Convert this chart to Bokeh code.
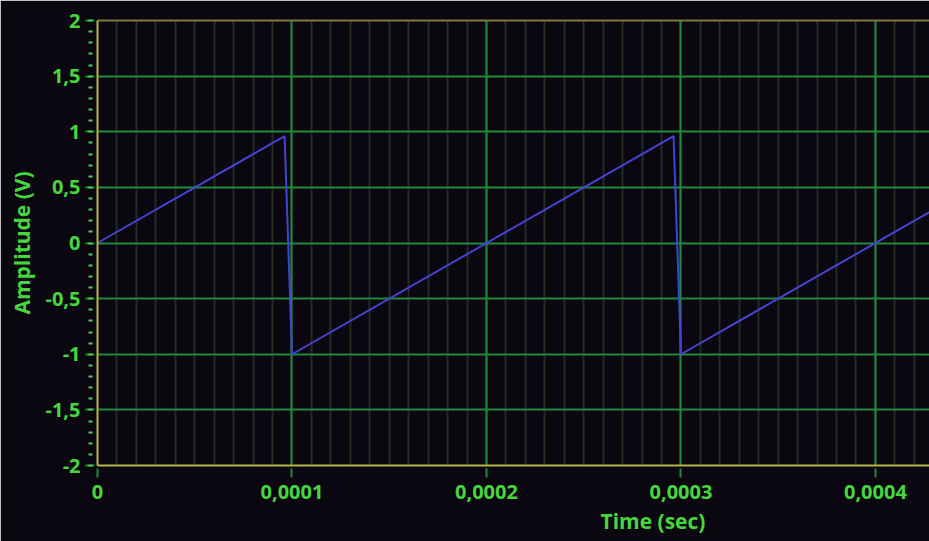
from bokeh.plotting import figure
from bokeh.models import Range1d, FixedTicker, LinearAxis, Title
from bokeh.embed import file_html
from bokeh.resources import INLINE

# --- data ---
time_s = [0.0, 0.0000962, 0.0001, 0.0002962, 0.0003, 0.000428]
amplitude_v = [0.0, 0.96, -1.0, 0.96, -1.0, 0.28]

x_ticks = [0.0, 0.0001, 0.0002, 0.0003, 0.0004]
x_tick_labels = ["0", "0,0001", "0,0002", "0,0003", "0,0004"]
y_ticks = [-2.0, -1.5, -1.0, -0.5, 0.0, 0.5, 1.0, 1.5, 2.0]
y_tick_labels = ["-2", "-1,5", "-1", "-0,5", "0", "0,5", "1", "1,5", "2"]
x_minor = [round(i * 0.00001, 6) for i in range(0, 43)]
y_minor = [round(-2 + i * 0.1, 2) for i in range(0, 41)]

BG = "#0b0710"
GREEN_TXT = "#45d83c"
GRID = "#1e8a3c"
MINOR_GRID = "#242b1f"
YELLOW = "#b8b448"
FONT = "Open Sans"

p = figure(width=929, height=541, output_backend="svg", toolbar_location=None,
           x_range=Range1d(0, 0.0004278), y_range=Range1d(-2, 2),
           min_border_left=97, min_border_right=0, min_border_top=20, min_border_bottom=76)
p.background_fill_color = BG
p.border_fill_color = BG
p.outline_line_color = None

p.line(time_s, amplitude_v, line_color="#4444d2", line_width=2)

xt = FixedTicker(ticks=x_ticks, minor_ticks=x_minor)
yt = FixedTicker(ticks=y_ticks, minor_ticks=y_minor)
p.xaxis.ticker = xt
p.yaxis.ticker = yt
p.xgrid.ticker = xt
p.ygrid.ticker = yt

p.xaxis.major_label_overrides = dict(zip(x_ticks, x_tick_labels))
p.yaxis.major_label_overrides = dict(zip(y_ticks, y_tick_labels))

for ax in (p.xaxis, p.yaxis):
    ax.axis_line_color = YELLOW
    ax.axis_line_width = 2
    ax.major_tick_line_color = GRID
    ax.major_tick_line_width = 2
    ax.major_tick_in = -3
    ax.major_tick_out = 12
    ax.major_label_text_color = GREEN_TXT
    ax.major_label_text_font = FONT
    ax.major_label_text_font_style = "bold"
    ax.major_label_text_font_size = "20px"
    ax.axis_label_text_color = GREEN_TXT
    ax.axis_label_text_font = FONT
    ax.axis_label_text_font_style = "bold"
    ax.axis_label_text_font_size = "21px"

p.xaxis.minor_tick_line_color = None
p.xaxis.major_label_standoff = 7
p.yaxis.minor_tick_line_color = GREEN_TXT
p.yaxis.minor_tick_line_width = 2
p.yaxis.minor_tick_in = -5
p.yaxis.minor_tick_out = 9
p.yaxis.axis_label = "Amplitude (V)"
p.yaxis.axis_label_standoff = 6

p.xgrid.grid_line_color = GRID
p.xgrid.grid_line_width = 2
p.xgrid.minor_grid_line_color = MINOR_GRID
p.xgrid.minor_grid_line_width = 2
p.ygrid.grid_line_color = GRID
p.ygrid.grid_line_width = 2

top = LinearAxis(ticker=FixedTicker(ticks=[]), axis_line_color="#807a3a", axis_line_width=2,
                 major_tick_line_color=None, minor_tick_line_color=None)
p.add_layout(top, "above")

p.add_layout(Title(text="Time (sec)", align="left", offset=503, standoff=6,
                   text_color=GREEN_TXT, text_font=FONT, text_font_style="bold",
                   text_font_size="21px"), "below")

open("out.html", "w").write(file_html(p, INLINE))
